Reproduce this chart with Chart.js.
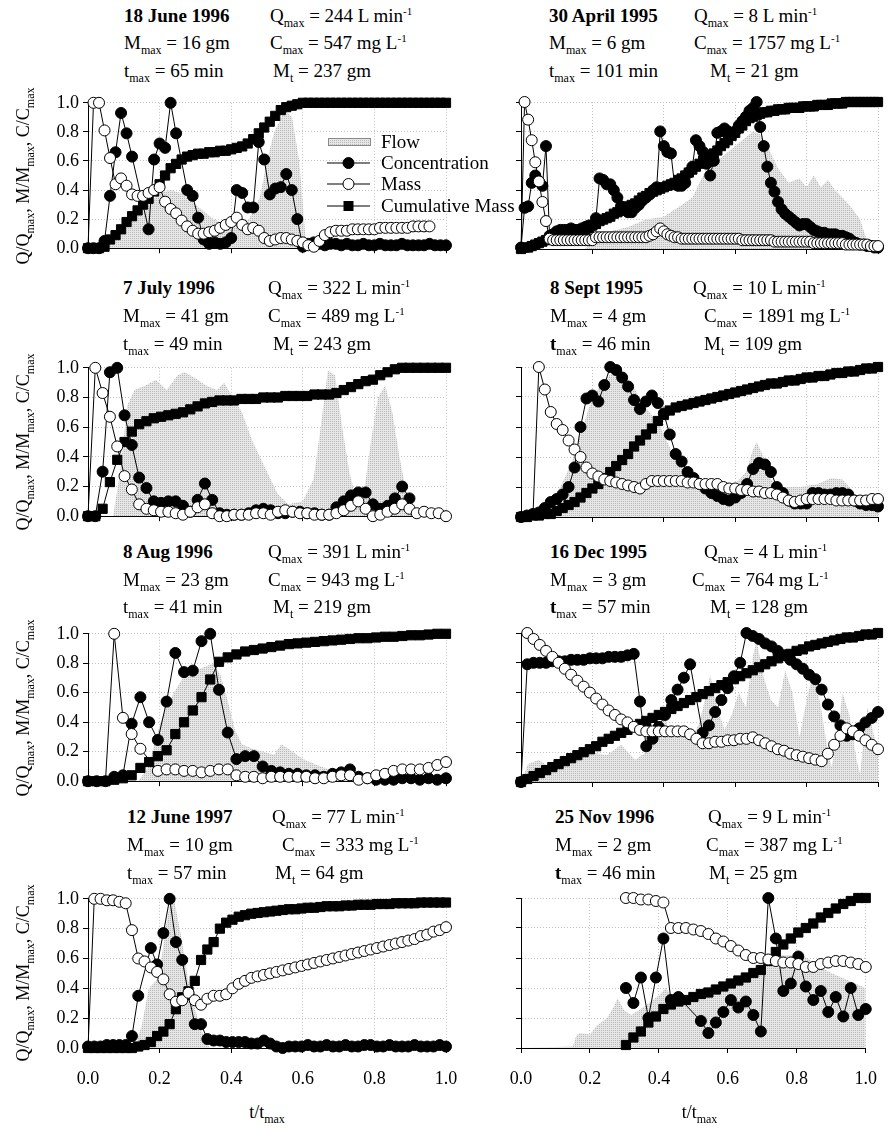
<!DOCTYPE html>
<html>
<head>
<meta charset="utf-8">
<title>Storm runoff: flow, concentration and mass</title>
<style>
body{margin:0;width:892px;height:1130px;position:relative;overflow:hidden;background:#fff;color:#000;font-family:'Liberation Serif','Times New Roman',serif}
canvas{position:absolute}
.hd{position:absolute;font-size:19px;line-height:22px;white-space:nowrap}
sub{font-size:12px;vertical-align:-5px;line-height:0}
sup{font-size:11px;vertical-align:7px;line-height:0}
.ytitle{position:absolute;width:260px;height:24px;line-height:24px;text-align:center;font-size:18px;white-space:nowrap;transform:rotate(-90deg)}
.xtitle{position:absolute;width:120px;text-align:center;font-size:18px;line-height:22px}
</style>
</head>
<body>
<script src="https://cdn.jsdelivr.net/npm/chart.js@4.4.1/dist/chart.umd.min.js"></script>
<script>
// storm summaries (order: left column top->bottom, then right column)
const stormDates = ['18 June 1996','7 July 1996','8 Aug 1996','12 June 1997','30 April 1995','8 Sept 1995','16 Dec 1995','25 Nov 1996'];
const qMax   = [244, 322, 391, 77, 8, 10, 4, 9];
const mMax   = [16, 41, 23, 10, 6, 4, 3, 2];
const cMax   = [547, 489, 943, 333, 1757, 1891, 764, 387];
const tMax   = [65, 49, 41, 57, 101, 46, 57, 46];
const mTotal = [237, 243, 219, 64, 21, 109, 128, 25];

// sampling grid: sample i sits at t/tmax = (first + i) / perUnit
const sampleFirst   = [0, 0, 0, 0, 0, 0, 0, 14];
const samplesPerUnit = [65, 49, 41, 57, 100, 60, 57, 46];

const tickValues = [0, 0.2, 0.4, 0.6, 0.8, 1.0];

// ---- 18 June 1996
const june96FlowT = [0,0.05,0.06,0.10,0.15,0.20,0.23,0.26,0.30,0.35,0.40,0.45,0.48,0.50,0.52,0.55,0.57,0.59,0.60,0.61,1.0];
const june96FlowQ = [0,0,0.05,0.15,0.25,0.38,0.40,0.38,0.30,0.20,0.15,0.20,0.35,0.60,0.80,0.95,0.90,0.60,0.30,0,0];
const june96Conc = [0,0,0,0.05,0.36,0.66,0.93,0.79,0.63,null, null,0.13,0.61,0.72,0.69,1.00,0.79,null,0.40,0.36,
  0.21,0.06,0.03,0.04,0.03,0.04,0.07,0.40,0.38,0.28, 0.28,0.73,0.61,0.37,0.41,0.42,0.51,0.40,0.20,0.01,
  0.03,0.04,0.03,0.02,0.03,0.03,0.02,0.03,0.02,0.02, 0.03,0.02,0.02,0.03,0.02,0.02,0.02,0.03,0.02,0.02,
  0.02,0.02,0.03,0.02,0.02,0.02];
const june96Mass = [0,1.0,1.0,0.81,0.62,0.44,0.48,0.43,0.37,0.36, 0.36,0.38,0.40,0.42,0.32,0.27,0.24,0.19,0.15,0.12,
  0.10,0.10,0.11,0.12,0.14,0.16,0.18,0.21,0.16,0.13, 0.14,0.12,0.07,0.05,0.06,0.07,0.07,0.06,0.05,0.04,
  0.02,0.01,0.05,0.09,0.11,0.12,0.12,0.12,0.13,0.13, 0.13,0.13,0.13,0.14,0.14,0.14,0.14,0.14,0.14,0.15,
  0.15,0.15,0.15];
const june96Cum = [0,0,0,0.01,0.06,0.09,0.13,0.18,0.22,0.26, 0.30,0.34,0.39,0.44,0.50,0.55,0.58,0.61,0.63,0.64,
  0.65,0.65,0.66,0.66,0.67,0.67,0.68,0.69,0.70,0.72, 0.75,0.79,0.83,0.87,0.91,0.95,0.97,0.98,0.99,1.0,
  1,1,1,1,1,1,1,1,1,1, 1,1,1,1,1,1,1,1,1,1, 1,1,1,1,1,1];

// ---- 7 July 1996
const july96FlowT = [0,0.07,0.09,0.11,0.13,0.16,0.19,0.22,0.25,0.27,0.30,0.33,0.36,0.38,0.40,0.43,0.46,0.50,0.53,0.56,
  0.60,0.63,0.65,0.67,0.69,0.71,0.73,0.75,0.77,0.79,0.81,0.83,0.85,0.87,0.89,0.91,0.92,1.0];
const july96FlowQ = [0,0,0.30,0.75,0.85,0.88,0.92,0.85,0.95,0.97,0.93,0.88,0.85,0.90,0.82,0.70,0.50,0.30,0.15,0.08,
  0.10,0.25,0.60,0.98,0.95,0.60,0.30,0.10,0.15,0.50,0.80,0.88,0.70,0.40,0.15,0.02,0,0];
const july96Conc = [0,0,0.30,0.97,1.0,0.68,0.48,0.26,0.19,0.10, 0.09,0.10,0.10,0.07,0.03,0.11,0.22,0.11,0.02,0.01,
  0.01,0.01,0.02,0.04,0.05,0.04,0.02,0.02,0.03,0.03, 0.02,0.02,0.01,0.01,0.06,0.10,0.14,0.16,0.16,0.08,
  0.05,0.07,0.12,0.20,0.12];
const july96Mass = [0,1.0,0.83,0.67,0.47,0.27,0.18,0.08,0.05,0.04, 0.03,0.03,0.02,0.01,0.03,0.06,0.08,0.02,0.0,0.0,
  0.01,0.01,0.01,0.02,0.02,0.01,0.03,0.04,0.03,0.02, 0.02,0.01,0.01,0.01,0.02,0.04,0.07,0.10,0.05,0.0,
  0.01,0.03,0.05,0.08,0.05,0.02,0.03,0.02,0.02,0.0];
const july96Cum = [0,0,0.05,0.23,0.38,0.50,0.57,0.62,0.64,0.66, 0.67,0.68,0.69,0.70,0.72,0.74,0.76,0.77,0.78,0.78,
  0.78,0.79,0.79,0.79,0.80,0.80,0.80,0.81,0.81,0.81, 0.81,0.82,0.82,0.82,0.83,0.85,0.87,0.89,0.91,0.92,
  0.95,0.97,0.99,1.0,1.0,1.0,1.0,1.0,1.0,1.0];

// ---- 8 Aug 1996
const aug96FlowT = [0,0.14,0.17,0.19,0.21,0.24,0.27,0.30,0.33,0.35,0.37,0.39,0.41,0.43,0.46,0.49,0.52,0.54,0.56,0.60,0.65,0.70,0.74,0.76,1.0];
const aug96FlowQ = [0,0,0.10,0.30,0.45,0.60,0.72,0.75,0.78,0.80,0.72,0.55,0.35,0.25,0.22,0.20,0.18,0.25,0.22,0.15,0.10,0.06,0.03,0,0];
const aug96Conc = [0,0,0,0.03,0.04,0.39,0.57,0.40,0.28,0.54, 0.87,0.74,0.75,0.95,1.0,0.62,0.33,0.15,0.17,0.17,
  0.10,0.07,0.06,0.05,0.05,0.04,0.04,0.03,0.05,0.06, 0.08,0.03,0.02,0.01,0.01,0.01,0.02,0.02,0.01,0.02,
  0.01,0.02];
const aug96Mass = [null,null,0,1.0,0.43,0.32,0.22,null,0.07,0.08, 0.08,0.07,0.07,0.06,0.07,0.08,0.08,0.04,0.03,0.03,
  0.02,0.03,0.03,0.03,0.03,0.03,0.02,0.02,0.03,0.04, 0.04,0.01,0.02,0.04,0.05,0.07,0.08,0.08,0.08,0.09,
  0.11,0.13];
const aug96Cum = [0,0,0,0.01,0.02,0.04,0.09,0.13,0.17,0.21, 0.32,0.40,0.48,0.57,0.69,0.81,0.84,0.86,0.88,0.89,
  0.90,0.91,0.92,0.93,0.935,0.94,0.945,0.95,0.955,0.96, 0.965,0.97,0.97,0.975,0.98,0.98,0.985,0.99,0.99,0.995,
  1.0,1.0];

// ---- 12 June 1997
const june97FlowT = [0,0.13,0.15,0.17,0.19,0.20,0.22,0.23,0.24,0.26,0.28,0.30,0.32,0.34,1.0];
const june97FlowQ = [0,0,0.15,0.40,0.45,0.50,0.85,0.97,1.0,0.75,0.45,0.25,0.10,0,0];
const june97Conc = [0.01,0.01,0.01,0.02,0.02,0.02,0.02,0.08,0.35,null, 0.67,0.56,0.77,1.0,0.71,0.59,0.36,0.16,0.16,0.06,
  0.05,0.05,0.04,0.04,0.04,0.04,0.03,0.03,0.05,0.03, 0.01,0.0,0.01,0.01,0.01,0.02,0.01,0.01,0.02,0.01,
  0.01,0.02,0.01,0.01,0.02,0.02,0.01,0.01,0.02,0.01, 0.01,0.01,0.02,0.01,0.01,0.01,0.02,0.01];
const june97Mass = [0,1.0,1.0,0.99,0.99,0.98,0.97,0.79,0.60,0.58, 0.54,0.51,0.46,0.36,0.31,0.32,0.37,0.32,0.29,0.33,
  0.35,0.35,0.36,0.40,0.43,0.45,0.47,0.48,0.49,0.50, 0.51,0.52,0.53,0.54,0.55,0.56,0.57,0.58,0.59,0.60,
  0.61,0.62,0.63,0.64,0.65,0.66,0.67,0.68,0.69,0.70, 0.71,0.72,0.73,0.75,0.76,0.78,0.79,0.81];
const june97Cum = [0,0,0,0,0,0,0,0,0.01,0.02, 0.04,0.08,0.11,0.16,0.26,0.34,0.38,0.45,0.59,0.66,
  0.71,0.80,0.84,0.86,0.88,0.89,0.90,0.905,0.91,0.915, 0.92,0.925,0.93,0.93,0.935,0.94,0.94,0.945,0.95,0.95,
  0.95,0.955,0.955,0.96,0.96,0.96,0.965,0.965,0.965,0.97, 0.97,0.97,0.97,0.975,0.975,0.975,0.975,0.975];

// ---- 30 April 1995
const apr95FlowT = [0,0.18,0.20,0.25,0.30,0.35,0.40,0.45,0.48,0.52,0.56,0.60,0.63,0.65,0.67,0.69,0.72,0.75,0.78,0.80,0.82,0.84,0.86,0.88,0.90,0.92,0.95,0.97,0.98,1.0];
const apr95FlowQ = [0,0,0.08,0.12,0.15,0.20,0.22,0.30,0.35,0.55,0.62,0.70,0.76,0.80,0.78,0.70,0.55,0.45,0.48,0.42,0.50,0.42,0.47,0.40,0.35,0.30,0.20,0.05,0,0];
const apr95Conc = [0.01,0.28,0.29,0.45,0.50,0.46,0.43,0.70,0.09,0.10, 0.12,0.13,0.13,0.13,0.14,0.13,0.13,0.14,0.15,0.16,
  0.16,0.21,0.48,0.47,0.44,0.44,0.40,0.35,0.29,0.27, 0.25,0.25,0.28,0.30,0.33,0.35,0.37,0.40,0.42,0.80,
  0.70,0.66,0.65,0.44,0.43,0.43,0.45,0.52,0.56,0.74, 0.70,0.66,0.58,0.50,0.60,0.79,0.80,0.82,0.80,0.78,
  0.80,0.84,0.87,0.90,0.94,0.96,1.00,0.83,0.70,0.56, 0.45,0.39,0.32,0.27,0.24,0.22,0.20,0.18,0.16,0.17,
  0.17,0.15,0.13,0.12,0.11,0.11,0.10,0.10,0.10,0.09, 0.09,0.08,0.07,0.05,0.04,0.03,0.03,0.02,0.02,0.01,
  0.01];
const apr95Mass = [0,1.0,0.88,0.74,0.59,0.46,0.32,0.19,0.07,0.06, 0.06,0.06,0.06,0.06,0.06,0.06,0.06,0.06,0.06,0.06,
  0.06,0.08,0.08,0.08,0.08,0.08,0.08,0.08,0.08,0.08, 0.08,0.08,0.08,0.08,0.08,0.08,0.09,0.10,0.12,0.14,
  0.12,0.10,0.09,0.08,0.08,0.07,0.07,0.07,0.07,0.07, 0.07,0.07,0.07,0.07,0.07,0.07,0.07,0.07,0.07,0.07,
  0.07,0.07,0.06,0.06,0.06,0.06,0.06,0.06,0.06,0.06, 0.06,0.05,0.05,0.05,0.05,0.05,0.05,0.05,0.05,0.05,
  0.05,0.05,0.04,0.04,0.04,0.04,0.04,0.04,0.04,0.04, 0.04,0.03,0.03,0.03,0.03,0.03,0.03,0.03,0.02,0.02,
  0.02];
const apr95Cum = [0.00,0.01,0.01,0.02,0.03,0.04,0.05,0.06,0.07,0.08, 0.09,0.09,0.10,0.11,0.11,0.12,0.12,0.13,0.13,0.14,
  0.16,0.17,0.19,0.20,0.21,0.22,0.24,0.25,0.26,0.27, 0.29,0.30,0.31,0.33,0.35,0.36,0.38,0.39,0.40,0.41,
  0.42,0.43,0.44,0.45,0.47,0.48,0.50,0.52,0.54,0.56, 0.58,0.60,0.62,0.64,0.65,0.67,0.70,0.72,0.74,0.77,
  0.79,0.82,0.84,0.87,0.89,0.90,0.91,0.92,0.93,0.93, 0.94,0.94,0.95,0.95,0.95,0.96,0.96,0.96,0.96,0.97,
  0.97,0.97,0.97,0.98,0.98,0.98,0.98,0.99,0.99,0.99, 0.99,1.0,1.0,1.0,1.0,1.0,1.0,1.0,1.0,1.0,
  1.0];

// ---- 8 Sept 1995
const sept95FlowT = [0,0.06,0.08,0.11,0.14,0.16,0.18,0.20,0.23,0.25,0.27,0.29,0.32,0.34,0.36,0.39,0.41,0.43,0.46,0.50,
  0.55,0.60,0.63,0.65,0.66,0.68,0.70,0.73,0.78,0.83,0.87,0.90,0.92,0.95,0.97,1.0];
const sept95FlowQ = [0,0,0.10,0.20,0.35,0.50,0.65,0.80,0.90,0.95,1.0,0.95,0.85,0.75,0.70,0.60,0.50,0.40,0.30,0.22,
  0.20,0.22,0.30,0.45,0.50,0.40,0.25,0.20,0.20,0.22,0.26,0.25,0.20,0.10,0.05,0.04];
const sept95Conc = [0.0,0.01,0.02,0.03,0.06,0.10,0.12,0.15,0.20,0.33, 0.60,0.79,0.81,0.77,0.88,1.0,0.98,0.93,0.87,0.78,
  0.72,0.77,0.81,0.76,0.69,0.55,0.42,0.37,0.30,0.26, 0.22,0.19,0.16,0.14,0.12,0.11,0.13,0.16,0.22,0.32,
  0.36,0.35,0.30,0.20,0.16,0.11,0.09,0.09,0.09,0.16, 0.16,0.15,0.15,0.16,0.16,0.15,0.11,0.09,0.08,0.08,
  0.07];
const sept95Mass = [null,null,0,1.0,0.85,0.70,0.62,0.58,0.51,0.45, 0.40,0.33,0.29,0.27,0.25,0.24,0.23,0.22,0.21,0.20,
  0.19,0.22,0.24,0.24,0.24,0.24,0.24,0.24,0.23,0.23, 0.22,0.22,0.22,0.22,0.20,0.19,0.19,0.18,0.18,0.17,
  0.17,0.16,0.16,0.15,0.13,0.11,0.10,0.11,0.12,0.12, 0.12,0.12,0.12,0.11,0.11,0.11,0.11,0.11,0.11,0.12,
  0.12];
const sept95Cum = [0.0,0.0,0.01,0.01,0.02,0.02,0.04,0.06,0.08,0.10, 0.13,0.16,0.19,0.22,0.26,0.30,0.34,0.38,0.42,0.47,
  0.51,0.55,0.59,0.64,0.68,0.71,0.73,0.74,0.75,0.76, 0.77,0.78,0.79,0.80,0.81,0.82,0.83,0.84,0.85,0.86,
  0.87,0.88,0.89,0.89,0.90,0.91,0.91,0.92,0.93,0.93, 0.94,0.94,0.95,0.96,0.96,0.97,0.97,0.98,0.99,0.99,
  1.0];

// ---- 16 Dec 1995
const dec95FlowT = [0,0.02,0.05,0.08,0.12,0.16,0.20,0.24,0.28,0.32,0.35,0.38,0.40,0.42,0.45,0.48,0.50,0.52,0.53,0.55,
  0.57,0.59,0.61,0.63,0.65,0.66,0.68,0.70,0.72,0.74,0.76,0.78,0.80,0.82,0.84,0.86,0.87,0.89,0.90,0.92,
  0.94,0.95,0.96,0.97,0.99,1.0];
const dec95FlowQ = [0,0.12,0.15,0.10,0.18,0.15,0.20,0.18,0.25,0.15,0.20,0.30,0.45,0.30,0.35,0.30,0.40,0.60,0.72,0.50,
  0.35,0.45,0.60,0.50,0.85,0.95,0.70,0.55,0.50,0.75,0.60,0.30,0.55,0.75,0.50,0.20,0.10,0.35,0.60,0.45,
  0.15,0.05,0.30,0.50,0.30,0.20];
const dec95Conc = [0.0,0.79,0.80,0.80,0.80,0.81,0.81,0.81,0.82,0.82, 0.82,0.83,0.83,0.83,0.84,0.84,0.84,0.85,0.86,0.54,
  0.24,0.29,0.37,0.45,0.55,0.62,0.70,0.79,null,0.33, 0.38,0.47,0.55,0.63,0.71,0.80,1.00,0.98,0.96,0.93,
  0.91,0.88,0.85,0.82,0.79,0.76,0.72,0.69,0.62,0.52, 0.44,0.38,0.31,0.32,0.36,0.40,0.43,0.47];
const dec95Mass = [null,1.0,0.96,0.92,0.88,0.84,0.80,0.76,0.72,0.68, 0.64,0.60,0.56,0.52,0.48,0.45,0.42,0.40,0.37,0.35,
  0.34,0.34,0.34,0.34,0.34,0.34,0.34,0.32,0.29,0.26, 0.26,0.27,0.27,0.28,0.28,0.29,0.29,0.30,0.28,0.26,
  0.24,0.22,0.21,0.19,0.18,0.17,0.16,0.15,0.14,0.19, 0.25,0.31,0.36,0.34,0.31,0.28,0.25,0.22];
const dec95Cum = [0,0.02,0.04,0.06,0.08,0.10,0.12,0.14,0.16,0.18, 0.20,0.22,0.24,0.27,0.29,0.31,0.33,0.35,0.37,0.39,
  0.41,0.43,0.45,0.47,0.49,0.51,0.53,0.55,0.57,0.59, 0.61,0.63,0.65,0.67,0.69,0.71,0.73,0.75,0.77,0.79,
  0.81,0.83,0.85,0.86,0.88,0.89,0.91,0.92,0.93,0.94, 0.95,0.96,0.97,0.97,0.98,0.99,0.99,1.0];

// ---- 25 Nov 1996
const nov96FlowT = [0,0.15,0.16,0.17,0.20,0.22,0.25,0.27,0.28,0.30,0.32,0.36,0.40,0.42,0.45,0.50,0.55,0.60,0.65,0.70,0.72,0.76,0.80,0.83,0.86,0.90,0.95,1.0];
const nov96FlowQ = [0,0.01,0.08,0.10,0.09,0.15,0.20,0.28,0.33,0.25,0.22,0.28,0.35,0.40,0.30,0.35,0.38,0.40,0.45,0.50,0.60,0.62,0.62,0.60,0.55,0.50,0.45,0.40];
const nov96Conc = [0.40,0.30,0.47,0.20,0.47,0.73,0.32,0.34,null,null, 0.18,0.10,0.17,0.24,0.32,0.27,0.31,0.22,0.11,1.0,
  0.73,0.38,0.43,0.61,0.41,0.32,0.38,0.24,0.34,0.21, 0.40,0.22,0.26];
const nov96Mass = [1.0,1.0,0.99,0.99,0.98,0.97,0.80,0.80,0.80,0.79, 0.78,0.76,0.73,0.71,0.68,0.65,0.62,0.60,0.60,0.59,
  0.58,0.57,0.57,0.56,0.54,0.54,0.56,0.57,0.58,0.58, 0.57,0.56,0.54];
const nov96Cum = [0.02,0.07,0.11,0.17,0.21,0.26,0.29,0.31,0.32,0.34, 0.36,0.37,0.39,0.41,0.43,0.45,0.47,0.50,0.52,0.58,
  0.64,0.69,0.73,0.77,0.80,0.83,0.87,0.90,0.93,0.96, 0.98,1.0,1.0];

const storms = [
  [june96FlowT, june96FlowQ, june96Conc, june96Mass, june96Cum],
  [july96FlowT, july96FlowQ, july96Conc, july96Mass, july96Cum],
  [aug96FlowT, aug96FlowQ, aug96Conc, aug96Mass, aug96Cum],
  [june97FlowT, june97FlowQ, june97Conc, june97Mass, june97Cum],
  [apr95FlowT, apr95FlowQ, apr95Conc, apr95Mass, apr95Cum],
  [sept95FlowT, sept95FlowQ, sept95Conc, sept95Mass, sept95Cum],
  [dec95FlowT, dec95FlowQ, dec95Conc, dec95Mass, dec95Cum],
  [nov96FlowT, nov96FlowQ, nov96Conc, nov96Mass, nov96Cum]
];

// ---------- layout ----------
const FONT = "'Liberation Serif', 'Times New Roman', serif";
const rowTop = [102, 367, 633, 898];
const rowBottom = [249, 517, 782, 1048];
const headerY = [[16, 43, 71], [288, 316, 344], [552, 580, 607], [817, 845, 873]];
// x of: date/M/t column, Q, C, Mt
const headerX = [[124,270,270,273],[123,268,268,273],[123,268,268,273],[127,272,282,275],
                 [549,694,694,710],[550,693,704,704],[550,704,692,710],[555,708,706,709]];
const boldT = [false,false,false,false,false,true,true,true];

// dotted grey fill like the original shading
const pc = document.createElement('canvas');
pc.width = 2; pc.height = 2;
const pctx = pc.getContext('2d');
pctx.fillStyle = '#e6e6e6'; pctx.fillRect(0, 0, 2, 2);
pctx.fillStyle = '#b9b9b9'; pctx.fillRect(0, 0, 1, 1);
const flowFill = pctx.createPattern(pc, 'repeat');

function addText(cls, x, y, html) {
  const d = document.createElement('div');
  d.className = cls;
  d.style.left = x + 'px';
  d.style.top = y + 'px';
  d.innerHTML = html;
  document.body.appendChild(d);
  return d;
}

function samplePoints(k, values) {
  const pts = [];
  values.forEach(function(v, i) {
    if (v !== null) pts.push({x: (sampleFirst[k] + i) / samplesPerUnit[k], y: v});
  });
  return pts;
}

// legend drawn inside the first panel
const legendPlugin = {
  id: 'stormLegend',
  afterDatasetsDraw(chart) {
    const ctx = chart.ctx;
    const top = chart.canvas.offsetTop;
    const rows = [142, 163, 184, 206];
    const names = ['Flow', 'Concentration', 'Mass', 'Cumulative Mass'];
    ctx.save();
    ctx.font = '19px ' + FONT;
    ctx.textBaseline = 'middle';
    rows.forEach(function(py, j) {
      const y = py - top;
      if (j === 0) {
        ctx.fillStyle = flowFill;
        ctx.fillRect(328, y - 3.5, 42, 7);
        ctx.strokeStyle = '#8a8a8a';
        ctx.lineWidth = 1;
        ctx.strokeRect(328.5, y - 3.5, 42, 7);
      } else {
        ctx.strokeStyle = '#000';
        ctx.lineWidth = 1;
        ctx.beginPath(); ctx.moveTo(327, y); ctx.lineTo(370, y); ctx.stroke();
        ctx.beginPath();
        if (j === 3) {
          ctx.fillStyle = '#000';
          ctx.fillRect(343.5, y - 5, 10, 10);
        } else {
          ctx.arc(348.5, y, 5.5, 0, Math.PI * 2);
          ctx.fillStyle = j === 1 ? '#000' : '#fff';
          ctx.fill();
          ctx.stroke();
        }
      }
      ctx.fillStyle = '#000';
      ctx.fillText(names[j], 381, y + 1);
    });
    ctx.restore();
  }
};

function makePanel(k) {
  const col = k < 4 ? 0 : 1;
  const row = k % 4;
  const s = storms[k];
  const isBottom = row === 3;
  const padTop = 14;
  const xh = isBottom ? 50 : 14;
  const left = col === 0 ? 0 : 455;
  const width = col === 0 ? 520 : 437;
  const axisLeft = col === 0 ? 88 : 521;
  const axisRight = col === 0 ? 446 : 878;
  const height = rowBottom[row] - rowTop[row] + padTop + xh;

  const canvas = document.createElement('canvas');
  canvas.width = width; canvas.height = height;
  canvas.style.left = left + 'px';
  canvas.style.top = (rowTop[row] - padTop) + 'px';
  canvas.style.width = width + 'px';
  canvas.style.height = height + 'px';
  document.body.appendChild(canvas);

  const grid = {color: '#c2c2c2', lineWidth: 1, drawTicks: true, tickLength: 5, tickColor: '#000', tickWidth: 1};
  const border = {display: true, color: '#000', width: 1, dash: [1, 2]};
  const tickFont = {family: FONT, size: 18};

  const marker = {showLine: true, borderColor: '#000', borderWidth: 1, pointBorderColor: '#000',
                  pointBorderWidth: 1, tension: 0, fill: false, clip: false};

  new Chart(canvas, {
    type: 'line',
    data: {
      datasets: [
        Object.assign({label: 'Mass', data: samplePoints(k, s[3]), pointStyle: 'circle',
          pointRadius: function(c) { return (c.dataIndex === 0 && c.raw && c.raw.y === 0) ? 0 : 5.5; },
          pointBackgroundColor: '#fff'}, marker),
        Object.assign({label: 'Concentration', data: samplePoints(k, s[2]), pointStyle: 'circle',
          pointRadius: 5.5, pointBackgroundColor: '#000'}, marker),
        Object.assign({label: 'Cumulative Mass', data: samplePoints(k, s[4]), pointStyle: 'rect',
          pointRadius: 6.5, pointBackgroundColor: '#000'}, marker),
        {label: 'Flow', data: s[0].map(function(t, i) { return {x: t, y: s[1][i]}; }),
          pointRadius: 0, borderWidth: 0, borderColor: 'rgba(0,0,0,0)', backgroundColor: flowFill,
          fill: 'origin', tension: 0, clip: false}
      ]
    },
    options: {
      responsive: false,
      animation: false,
      events: [],
      layout: {padding: {top: padTop, right: left + width - axisRight, left: 0, bottom: 0}},
      plugins: {legend: {display: false}, tooltip: {enabled: false}},
      scales: {
        x: {
          type: 'linear', min: 0, max: 1,
          afterFit: function(sc) { sc.height = xh; },
          afterBuildTicks: function(sc) { sc.ticks = tickValues.map(function(v) { return {value: v}; }); },
          ticks: {display: isBottom, autoSkip: false, maxRotation: 0, padding: 15, color: '#000', font: tickFont,
                  callback: function(v) { return v.toFixed(1); }},
          grid: grid, border: border
        },
        y: {
          type: 'linear', min: 0, max: 1,
          afterFit: function(sc) { sc.width = axisLeft - left; },
          afterBuildTicks: function(sc) { sc.ticks = tickValues.map(function(v) { return {value: v}; }); },
          ticks: {display: col === 0, padding: 4, color: '#000', font: tickFont,
                  callback: function(v) { return v.toFixed(1); }},
          grid: grid, border: border
        }
      }
    },
    plugins: k === 0 ? [legendPlugin] : []
  });

  // header block
  const hx = headerX[k], hy = headerY[row];
  addText('hd', hx[0], hy[0] - 11, '<b>' + stormDates[k] + '</b>');
  addText('hd', hx[1], hy[0] - 11, 'Q<sub>max</sub> = ' + qMax[k] + ' L min<sup>-1</sup>');
  addText('hd', hx[0], hy[1] - 11, 'M<sub>max</sub> = ' + mMax[k] + ' gm');
  addText('hd', hx[2], hy[1] - 11, 'C<sub>max</sub> = ' + cMax[k] + ' mg L<sup>-1</sup>');
  addText('hd', hx[0], hy[2] - 11, (boldT[k] ? '<b>t</b>' : 't') + '<sub>max</sub> = ' + tMax[k] + ' min');
  addText('hd', hx[3], hy[2] - 11, 'M<sub>t</sub> = ' + mTotal[k] + ' gm');

  if (col === 0) {
    const cy = (rowTop[row] + rowBottom[row]) / 2;
    addText('ytitle', 23 - 130, cy - 12, 'Q/Q<sub>max</sub>, M/M<sub>max</sub>, C/C<sub>max</sub>');
  }
  if (isBottom) {
    addText('xtitle', (axisLeft + axisRight) / 2 - 60, 1101, 't/t<sub>max</sub>');
  }
}

for (let k = 0; k < 8; k++) makePanel(k);
</script>
</body>
</html>
